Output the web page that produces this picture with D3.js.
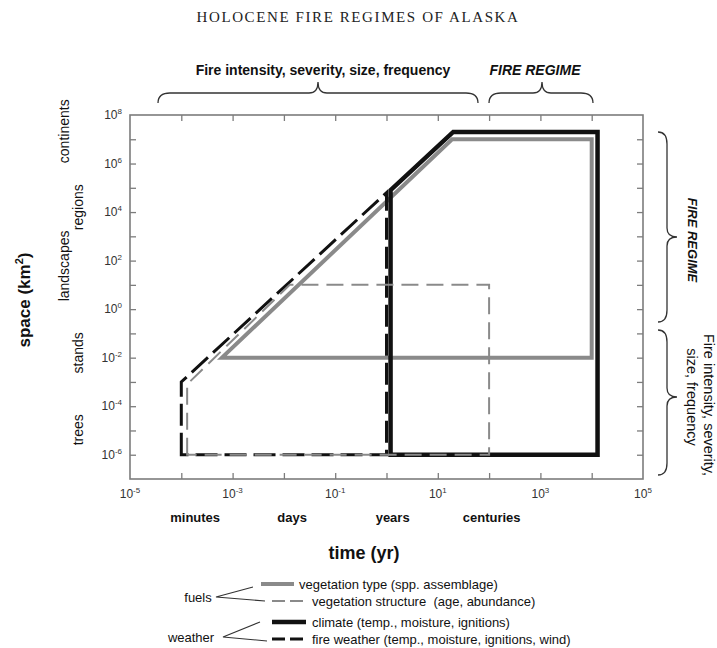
<!DOCTYPE html>
<html>
<head>
<meta charset="utf-8">
<script src="https://cdn.jsdelivr.net/npm/d3@7"></script>
<style>
  body { margin: 0; background: #fff; }
  svg { display: block; font-family: "Liberation Sans", Arial, sans-serif; }
</style>
</head>
<body>
<svg></svg>
<script>
var width = 717;
var height = 648;

// axis labels (decade exponents)
var xTickExp = [-5, -3, -1, 1, 3, 5];
var yTickExp = [8, 6, 4, 2, 0, -2, -4, -6];

// named time / space levels and where they sit (log10 units)
var timeUnits = ['minutes', 'days', 'years', 'centuries'];
var timeUnitExp = [-3.73, -1.84, 0.12, 2.05];
var spaceUnits = ['continents', 'regions', 'landscapes', 'stands', 'trees'];
var spaceUnitExp = [7.33, 4.2, 1.78, -1.8, -4.97];

// outlines: [time (yr), space (km2)]
var vegType = [[6.2e-4, 1e-2], [19, 1e7], [1e4, 1e7], [1e4, 1e-2]];
var vegStructure = [[1.3e-4, 1e-6], [1.3e-4, 8e-4], [1.3e-2, 10], [100, 10], [100, 1e-6]];
var climate = [[1.2, 1e-6], [1.2, 8e4], [20, 2e7], [1.3e4, 2e7], [1.3e4, 1e-6]];
var fireWeather = [[1e-4, 1e-6], [1e-4, 1e-3], [1, 6.3e4], [1, 1e-6]];

var legendLabels = [
  'vegetation type (spp. assemblage)',
  'vegetation structure  (age, abundance)',
  'climate (temp., moisture, ignitions)',
  'fire weather (temp., moisture, ignitions, wind)'
];

var svg = d3.select('svg')
    .attr('width', width)
    .attr('height', height);

var x = d3.scaleLog().domain([1e-5, 1e5]).range([130, 643]);
var y = d3.scaleLog().domain([1e-7, 1e8]).range([479, 115]);

var frameColor = '#7c7c7c';
var grey = '#8a8a8a';
var black = '#111';

var styles = {
  vegType: { stroke: grey, width: 4, dash: null },
  vegStructure: { stroke: grey, width: 2, dash: '17 8' },
  climate: { stroke: black, width: 4.5, dash: null },
  fireWeather: { stroke: black, width: 3, dash: '22 7' }
};

// title
svg.append('text')
    .attr('x', 358)
    .attr('y', 22)
    .attr('text-anchor', 'middle')
    .style('font-family', '"Liberation Serif", "Times New Roman", serif')
    .style('font-size', '15px')
    .style('letter-spacing', '1.6px')
    .attr('fill', '#222')
    .text('HOLOCENE FIRE REGIMES OF ALASKA');

// ticks
var xDecades = d3.range(-4, 5).map(function(e) { return Math.pow(10, e); });
var yDecades = d3.range(-6, 8).map(function(e) { return Math.pow(10, e); });

function styleAxis(g) {
  g.select('.domain').remove();
  g.selectAll('line').attr('stroke', frameColor).attr('stroke-width', 1.3);
  g.selectAll('text').remove();
}

svg.append('g').attr('transform', 'translate(0,479)')
    .call(d3.axisBottom(x).tickValues(xDecades).tickSize(-6)).call(styleAxis);
svg.append('g').attr('transform', 'translate(0,115)')
    .call(d3.axisTop(x).tickValues(xDecades).tickSize(-6)).call(styleAxis);
svg.append('g').attr('transform', 'translate(130,0)')
    .call(d3.axisLeft(y).tickValues(yDecades).tickSize(-6)).call(styleAxis);
svg.append('g').attr('transform', 'translate(643,0)')
    .call(d3.axisRight(y).tickValues(yDecades).tickSize(-6)).call(styleAxis);

svg.append('rect')
    .attr('x', x.range()[0])
    .attr('y', y.range()[1])
    .attr('width', x.range()[1] - x.range()[0])
    .attr('height', y.range()[0] - y.range()[1])
    .attr('fill', 'none')
    .attr('stroke', frameColor)
    .attr('stroke-width', 1.6);

// tick labels with superscripts
function powLabel(sel, e) {
  sel.append('tspan').text('10');
  sel.append('tspan')
      .attr('dy', -5)
      .style('font-size', '8px')
      .text(e);
}

svg.append('g').selectAll('text')
    .data(xTickExp)
    .enter().append('text')
    .attr('x', function(d) { return x(Math.pow(10, d)); })
    .attr('y', 498)
    .attr('text-anchor', 'middle')
    .style('font-size', '12px')
    .attr('fill', '#333')
    .each(function(d) { powLabel(d3.select(this), d); });

svg.append('g').selectAll('text')
    .data(yTickExp)
    .enter().append('text')
    .attr('x', 122)
    .attr('y', function(d) { return y(Math.pow(10, d)) + 4; })
    .attr('text-anchor', 'end')
    .style('font-size', '12px')
    .attr('fill', '#333')
    .each(function(d) { powLabel(d3.select(this), d); });

// time unit labels
svg.append('g').selectAll('text')
    .data(timeUnits)
    .enter().append('text')
    .attr('x', function(d, i) { return x(Math.pow(10, timeUnitExp[i])); })
    .attr('y', 522)
    .attr('text-anchor', 'middle')
    .style('font-size', '13px')
    .style('font-weight', 'bold')
    .attr('fill', '#111')
    .text(function(d) { return d; });

svg.append('text')
    .attr('x', 364)
    .attr('y', 559)
    .attr('text-anchor', 'middle')
    .style('font-size', '18px')
    .style('font-weight', 'bold')
    .attr('fill', '#111')
    .text('time (yr)');

// space unit labels
svg.append('g').selectAll('text')
    .data(spaceUnits)
    .enter().append('text')
    .attr('transform', function(d, i) {
      var bx = (d === 'continents' || d === 'landscapes') ? 69 : 83;
      return 'translate(' + bx + ',' + y(Math.pow(10, spaceUnitExp[i])) + ') rotate(-90)';
    })
    .attr('text-anchor', 'middle')
    .style('font-size', '14px')
    .attr('fill', '#111')
    .text(function(d) { return d; });

var spaceLabel = svg.append('text')
    .attr('transform', 'translate(30,300) rotate(-90)')
    .attr('text-anchor', 'middle')
    .style('font-size', '17px')
    .style('font-weight', 'bold')
    .attr('fill', '#111');
spaceLabel.append('tspan').text('space (km');
spaceLabel.append('tspan').attr('dy', -7).style('font-size', '11px').text('2');
spaceLabel.append('tspan').attr('dy', 7).text(')');

// outlines
var line = d3.line()
    .x(function(d) { return x(d[0]); })
    .y(function(d) { return y(d[1]); })
    .curve(d3.curveLinearClosed);

var series = [
  { key: 'vegType', pts: vegType },
  { key: 'climate', pts: climate },
  { key: 'fireWeather', pts: fireWeather },
  { key: 'vegStructure', pts: vegStructure }
];

svg.append('g').selectAll('path')
    .data(series)
    .enter().append('path')
    .attr('d', function(d) { return line(d.pts); })
    .attr('fill', 'none')
    .attr('stroke', function(d) { return styles[d.key].stroke; })
    .attr('stroke-width', function(d) { return styles[d.key].width; })
    .attr('stroke-dasharray', function(d) { return styles[d.key].dash; })
    .attr('stroke-linejoin', 'miter');

// braces
function hBrace(x1, x2, xt, yEnd, yLine, yTip) {
  return 'M' + x1 + ',' + yEnd +
    'Q' + x1 + ',' + yLine + ' ' + (x1 + 12) + ',' + yLine +
    'L' + (xt - 9) + ',' + yLine +
    'Q' + xt + ',' + yLine + ' ' + xt + ',' + yTip +
    'Q' + xt + ',' + yLine + ' ' + (xt + 9) + ',' + yLine +
    'L' + (x2 - 12) + ',' + yLine +
    'Q' + x2 + ',' + yLine + ' ' + x2 + ',' + yEnd;
}
function vBrace(y1, y2, yt, xEnd, xLine, xTip) {
  return 'M' + xEnd + ',' + y1 +
    'Q' + xLine + ',' + y1 + ' ' + xLine + ',' + (y1 + 12) +
    'L' + xLine + ',' + (yt - 9) +
    'Q' + xLine + ',' + yt + ' ' + xTip + ',' + yt +
    'Q' + xLine + ',' + yt + ' ' + xLine + ',' + (yt + 9) +
    'L' + xLine + ',' + (y2 - 12) +
    'Q' + xLine + ',' + y2 + ' ' + xEnd + ',' + y2;
}

var braces = [
  hBrace(158, 478, 318, 103, 93, 82),
  hBrace(489, 593, 542, 103, 93, 82),
  vBrace(132, 322, 237, 658, 667, 677),
  vBrace(330, 475, 397, 658, 667, 677)
];
svg.append('g').selectAll('path')
    .data(braces)
    .enter().append('path')
    .attr('d', function(d) { return d; })
    .attr('fill', 'none')
    .attr('stroke', '#333')
    .attr('stroke-width', 1.3);

svg.append('text')
    .attr('x', 323).attr('y', 75)
    .attr('text-anchor', 'middle')
    .style('font-size', '14px')
    .style('font-weight', 'bold')
    .attr('fill', '#111')
    .text('Fire intensity, severity, size, frequency');

svg.append('text')
    .attr('x', 535).attr('y', 75)
    .attr('text-anchor', 'middle')
    .style('font-size', '14px')
    .style('font-weight', 'bold')
    .style('font-style', 'italic')
    .attr('fill', '#111')
    .text('FIRE REGIME');

svg.append('text')
    .attr('transform', 'translate(688,240) rotate(90)')
    .attr('text-anchor', 'middle')
    .style('font-size', '13px')
    .style('font-weight', 'bold')
    .style('font-style', 'italic')
    .attr('fill', '#111')
    .text('FIRE REGIME');

svg.append('text')
    .attr('transform', 'translate(704,405) rotate(90)')
    .attr('text-anchor', 'middle')
    .style('font-size', '14.5px')
    .attr('fill', '#111')
    .text('Fire intensity, severity,');

svg.append('text')
    .attr('transform', 'translate(687,397) rotate(90)')
    .attr('text-anchor', 'middle')
    .style('font-size', '14.5px')
    .attr('fill', '#111')
    .text('size, frequency');

// legend
var legendKeys = ['vegType', 'vegStructure', 'climate', 'fireWeather'];
var legendY = [584, 601, 622, 639];
var legend = svg.append('g');

legend.selectAll('line')
    .data(legendKeys)
    .enter().append('line')
    .attr('x1', function(d, i) { return i === 0 ? 261 : 272; })
    .attr('x2', function(d, i) { return i === 0 ? 294 : 306; })
    .attr('y1', function(d, i) { return legendY[i]; })
    .attr('y2', function(d, i) { return legendY[i]; })
    .attr('stroke', function(d) { return styles[d].stroke; })
    .attr('stroke-width', function(d) { return styles[d].width; })
    .attr('stroke-dasharray', function(d) { return styles[d].dash ? '13 5' : null; });

legend.selectAll('text')
    .data(legendLabels)
    .enter().append('text')
    .attr('x', function(d, i) { return i === 0 ? 299 : 312; })
    .attr('y', function(d, i) { return legendY[i] + 4.5; })
    .style('font-size', '13px')
    .attr('fill', '#111')
    .style('white-space', 'pre')
    .text(function(d) { return d; });

var groups = [
  { name: 'fuels', cx: 198, cy: 597, x0: 216, top: [253, 587], bot: [265, 601] },
  { name: 'weather', cx: 191, cy: 637, x0: 223, top: [260, 622], bot: [267, 641] }
];
groups.forEach(function(g) {
  legend.append('text')
      .attr('x', g.cx).attr('y', g.cy + 4.5)
      .attr('text-anchor', 'middle')
      .style('font-size', '13px')
      .attr('fill', '#111')
      .text(g.name);
  legend.append('path')
      .attr('d', 'M' + g.top[0] + ',' + g.top[1] + 'L' + g.x0 + ',' + g.cy + 'L' + g.bot[0] + ',' + g.bot[1])
      .attr('fill', 'none')
      .attr('stroke', '#333')
      .attr('stroke-width', 1.1);
});
</script>
</body>
</html>
